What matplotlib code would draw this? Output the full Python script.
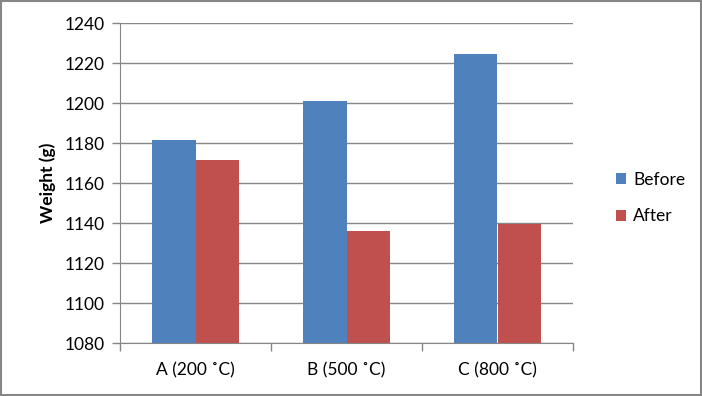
import numpy as np
import matplotlib.pyplot as plt
from matplotlib.patches import Rectangle

plt.rcParams['font.family'] = ['Lato', 'DejaVu Sans']

categories = ["A (200 ˚C)", "B (500 ˚C)", "C (800 ˚C)"]
before = [1181.7, 1201.2, 1224.7]
after = [1171.7, 1136.2, 1139.8]
yticks = [1080, 1100, 1120, 1140, 1160, 1180, 1200, 1220, 1240]

blue = "#4f81bd"
red = "#c0504d"
grey = "#868686"

fig = plt.figure(figsize=(7.02, 3.96), dpi=100)
ax = fig.add_axes([120 / 702, 1 - 343.3 / 396, 453 / 702, 320 / 396])

x = np.arange(len(categories))
w = 0.285
ax.bar(x - w / 2, before, w, color=blue, label="Before", zorder=2)
ax.bar(x + w / 2, after, w, color=red, label="After", zorder=2)

ax.set_ylim(1080, 1240)
ax.set_xlim(-0.5, 2.5)
ax.set_yticks(yticks)
ax.set_yticklabels([str(t) for t in yticks], fontsize=12.5)
ax.yaxis.grid(True, color=grey, linewidth=1, zorder=0)
ax.set_xticks([-0.5, 0.5, 1.5, 2.5])
ax.set_xticklabels([])
ax.tick_params(axis='x', length=6, color=grey, width=1)
ax.tick_params(axis='y', length=6, color=grey, width=1, pad=5)
for i, c in enumerate(categories):
    ax.text(i, -0.085, c, transform=ax.get_xaxis_transform(), ha='center', va='center', fontsize=12.5)

for s in ['top', 'right']:
    ax.spines[s].set_visible(False)
ax.spines['left'].set_color(grey)
ax.spines['bottom'].set_color(grey)
ax.set_ylabel("Weight (g)", fontsize=12.5, fontweight='bold', labelpad=6)

fig.legend(loc='center left', bbox_to_anchor=(600 / 702, 1 - 198 / 396), frameon=False,
           fontsize=12.5, handlelength=0.6, handleheight=0.6, handletextpad=0.4, labelspacing=1.2)

fig.patches.append(Rectangle((0.001, 0.002), 0.997, 0.996, transform=fig.transFigure,
                             fill=False, edgecolor=grey, linewidth=1.5))

fig.savefig("out.png", dpi=100)
